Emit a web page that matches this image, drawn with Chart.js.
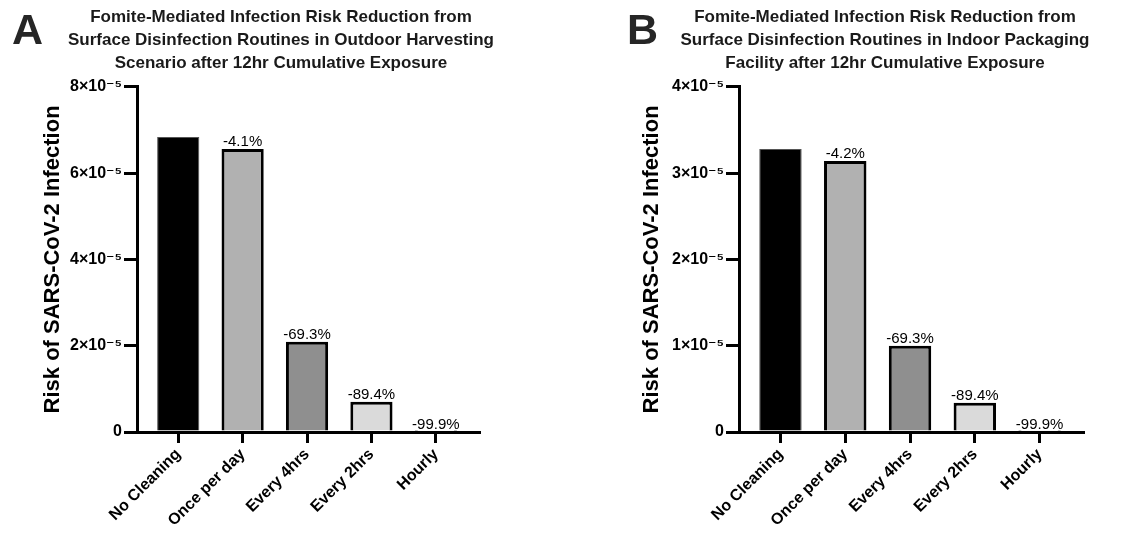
<!DOCTYPE html>
<html>
<head>
<meta charset="utf-8">
<script src="https://cdn.jsdelivr.net/npm/chart.js@4/dist/chart.umd.min.js"></script>
<style>
  html, body { margin: 0; padding: 0; background: #ffffff; overflow: hidden; }
  #a { position: absolute; left: 0; top: 0; }
  #b { position: absolute; left: 569px; top: 0; }
</style>
</head>
<body>
<canvas id="a" width="569" height="537"></canvas>
<canvas id="b" width="569" height="537"></canvas>
<script>
// ---- data ----
const categories = ['No Cleaning', 'Once per day', 'Every 4hrs', 'Every 2hrs', 'Hourly'];
const riskA = [6.84e-5, 6.56e-5, 2.09e-5, 0.70e-5, 0.0068e-5];
const riskB = [3.28e-5, 3.14e-5, 1.00e-5, 0.34e-5, 0.0033e-5];
const reductionA = ['', '-4.1%', '-69.3%', '-89.4%', '-99.9%'];
const reductionB = ['', '-4.2%', '-69.3%', '-89.4%', '-99.9%'];
const yTicksA = ['0', '2×10⁻⁵', '4×10⁻⁵', '6×10⁻⁵', '8×10⁻⁵'];
const yTicksB = ['0', '1×10⁻⁵', '2×10⁻⁵', '3×10⁻⁵', '4×10⁻⁵'];
const yMaxA = 8e-5, yStepA = 2e-5;
const yMaxB = 4e-5, yStepB = 1e-5;
const titleA = ['Fomite-Mediated Infection Risk Reduction from',
                'Surface Disinfection Routines in Outdoor Harvesting',
                'Scenario after 12hr Cumulative Exposure'];
const titleB = ['Fomite-Mediated Infection Risk Reduction from',
                'Surface Disinfection Routines in Indoor Packaging',
                'Facility after 12hr Cumulative Exposure'];
const yTitle = 'Risk of SARS-CoV-2 Infection';

// ---- styles ----
const FONT = '"Liberation Sans", Arial, Helvetica, "DejaVu Sans", sans-serif';
const barFill = ['#000000', '#b1b1b1', '#8f8f8f', '#dadada', '#f0f0f0'];
const barBorder = ['#555555', '#000000', '#000000', '#000000', '#000000'];
const barBorderW = [1, 3, 3, 3, 3];

const barLabels = {
  id: 'barLabels',
  afterDatasetsDraw(chart, args, opts) {
    const ctx = chart.ctx;
    const meta = chart.getDatasetMeta(0);
    ctx.save();
    ctx.font = '15px ' + FONT;
    ctx.fillStyle = '#000';
    ctx.textAlign = 'center';
    ctx.textBaseline = 'alphabetic';
    meta.data.forEach((bar, i) => {
      const t = opts.labels[i];
      if (t) ctx.fillText(t, bar.x, bar.y - 3);
    });
    ctx.restore();
  }
};

const panelLetter = {
  id: 'panelLetter',
  afterDraw(chart, args, opts) {
    const ctx = chart.ctx;
    ctx.save();
    ctx.font = 'bold 43px ' + FONT;
    ctx.fillStyle = '#262626';
    ctx.textAlign = 'left';
    ctx.textBaseline = 'alphabetic';
    ctx.fillText(opts.text, opts.x, opts.y);
    ctx.restore();
  }
};

function makeChart(id, values, labels, yTicks, yMax, yStep, title, cfg) {
  return new Chart(document.getElementById(id), {
    type: 'bar',
    data: {
      datasets: [{
        data: values.map((v, i) => ({ x: i, y: v })),
        backgroundColor: barFill,
        borderColor: barBorder,
        borderWidth: barBorderW,
        borderSkipped: 'start',
        barPercentage: 0.655,
        categoryPercentage: 1
      }]
    },
    options: {
      responsive: false,
      animation: false,
      devicePixelRatio: 1,
      layout: { padding: { left: cfg.padLeft, right: cfg.padRight, top: 0, bottom: 0 } },
      plugins: {
        legend: { display: false },
        tooltip: { enabled: false },
        title: {
          display: true,
          text: title,
          fullSize: true,
          color: '#1a1a1a',
          font: { family: FONT, size: 17, weight: 'bold', lineHeight: 1.35 },
          padding: { top: 5.5, bottom: 12.5 }
        },
        barLabels: { labels: labels },
        panelLetter: { text: cfg.letter, x: cfg.letterX, y: 44 }
      },
      scales: {
        x: {
          type: 'linear',
          position: 'bottom',
          min: -0.64,
          max: 4.67,
          offset: false,
          afterFit(s) { s.height = 105; },
          border: { display: true, color: '#000', width: 3, z: 1 },
          grid: { display: true, offset: false, drawOnChartArea: false, drawTicks: true, tickLength: 11, lineWidth: 3, color: '#000' },
          ticks: {
            stepSize: 1,
            includeBounds: false,
            autoSkip: false,
            maxRotation: 45,
            minRotation: 45,
            padding: 2,
            color: '#000',
            font: { family: FONT, size: 16, weight: 'bold' },
            callback: (v) => categories[Math.round(v)] ?? ''
          }
        },
        y: {
          type: 'linear',
          position: 'left',
          min: 0,
          max: yMax,
          afterFit(s) { s.width = cfg.yWidth; },
          border: { display: true, color: '#000', width: 3, z: 1 },
          grid: { display: true, offset: false, drawOnChartArea: false, drawTicks: true, tickLength: 13, lineWidth: 3, color: '#000' },
          ticks: {
            stepSize: yStep,
            padding: 2,
            color: '#000',
            font: { family: FONT, size: 16, weight: 'bold' },
            callback: (v, i) => yTicks[i]
          },
          title: {
            display: true,
            text: yTitle,
            color: '#000',
            font: { family: FONT, size: 22, weight: 'bold', lineHeight: 1.2 },
            padding: { top: cfg.yTitlePad, bottom: 0 }
          }
        },
        pad: {
          type: 'linear',
          position: 'right',
          display: true,
          afterFit(s) { s.width = cfg.rightSpace; },
          border: { display: false },
          grid: { display: false },
          ticks: { display: false }
        }
      }
    },
    plugins: [barLabels, panelLetter]
  });
}

// A: chart area 137..479 ; title centred at 281
makeChart('a', riskA, reductionA, yTicksA, yMaxA, yStepA, titleA,
  { padLeft: 0, padRight: 7, yWidth: 137, rightSpace: 83, yTitlePad: 39.8, letter: 'A', letterX: 12 });
// B: chart area 739..1083 (170..514 in canvas) ; title centred at 885 (316 in canvas)
makeChart('b', riskB, reductionB, yTicksB, yMaxB, yStepB, titleB,
  { padLeft: 63, padRight: 0, yWidth: 107, rightSpace: 55, yTitlePad: 6.8, letter: 'B', letterX: 58 });
</script>
</body>
</html>
